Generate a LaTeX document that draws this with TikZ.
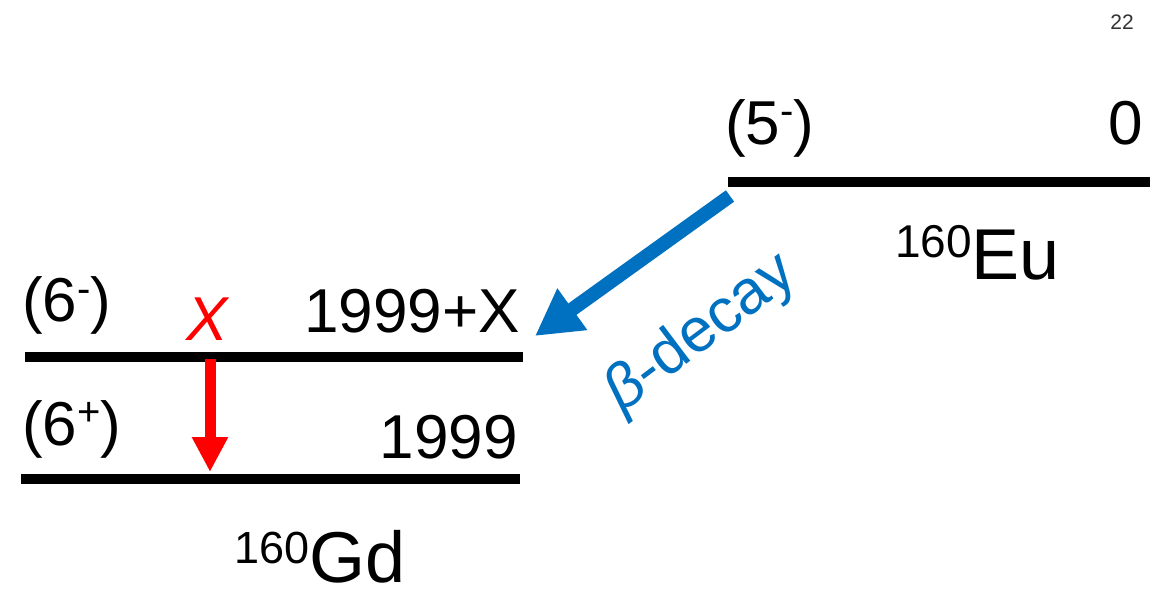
\documentclass[tikz,border=0pt]{standalone}
\usepackage{fontspec}
\setmainfont{Liberation Sans}
\usetikzlibrary{arrows.meta}
\definecolor{decayblue}{HTML}{0070C0}
\definecolor{pagegray}{HTML}{333333}
\newcommand{\supx}[1]{\raisebox{20pt}{\fontsize{40}{40}\selectfont #1}}
\tikzset{
  level/.style={line width=10pt},
  lbl/.style={inner sep=0pt, font=\fontsize{62}{70}\selectfont},
  nuc/.style={inner sep=0pt, font=\fontsize{72}{80}\selectfont},
  gamma/.style={red, line width=11pt, -{Triangle[width=34pt,length=35pt]}, shorten >=-2pt},
  beta/.style={decayblue, line width=14pt, -{Triangle[width=48pt,length=46pt]}},
}
\begin{document}
\begin{tikzpicture}[x=1pt,y=-1pt]
\useasboundingbox (0,0) rectangle (1150,593);
% levels
\coordinate (euL) at (728,182); \coordinate (euR) at (1150,182);
\coordinate (g1L) at (25,357);  \coordinate (g1R) at (523,357);
\coordinate (g0L) at (21,479);  \coordinate (g0R) at (520,479);
\draw[level] (euL) -- (euR);
\draw[level] (g1L) -- (g1R);
\draw[level] (g0L) -- (g0R);
% arrows
\coordinate (bS) at (730,196); \coordinate (bE) at (535,336);
\draw[beta] (bS) -- (bE);
\coordinate (gS) at (210,359); \coordinate (gE) at (210,470);
\draw[gamma] (gS) -- (gE);
% labels
\node[lbl, anchor=base west] (sEu) at (725,145) {(5\supx{-})};
\node[lbl, anchor=base east] (eEu) at (1143,145) {0};
\node[nuc, anchor=base west] (nEu) at (895,280) {\raisebox{22pt}{\fontsize{46}{46}\selectfont 160}Eu};
\node[lbl, anchor=base west] (s1) at (22,322) {(6\supx{-})};
\node[lbl, anchor=base west, text=red, font=\fontsize{62}{70}\selectfont\itshape] (xl) at (186,340) {X};
\node[lbl, anchor=base east] (e1) at (520,332) {1999+X};
\node[lbl, anchor=base west] (s0) at (22,445) {(6\supx{+})};
\node[lbl, anchor=base east] (e0) at (518,458) {1999};
\node[nuc, anchor=base west] (nGd) at (234,582) {\raisebox{19pt}{\fontsize{45}{45}\selectfont 160}Gd};
\node[lbl, text=decayblue, rotate=37, anchor=center, font=\fontsize{62}{68}\selectfont] (bl) at (701,334) {\textit{β}-decay};
\node[inner sep=0pt, anchor=base east, text=pagegray, font=\fontsize{21}{24}\selectfont] (pg) at (1134,30) {22};
\end{tikzpicture}
\end{document}
